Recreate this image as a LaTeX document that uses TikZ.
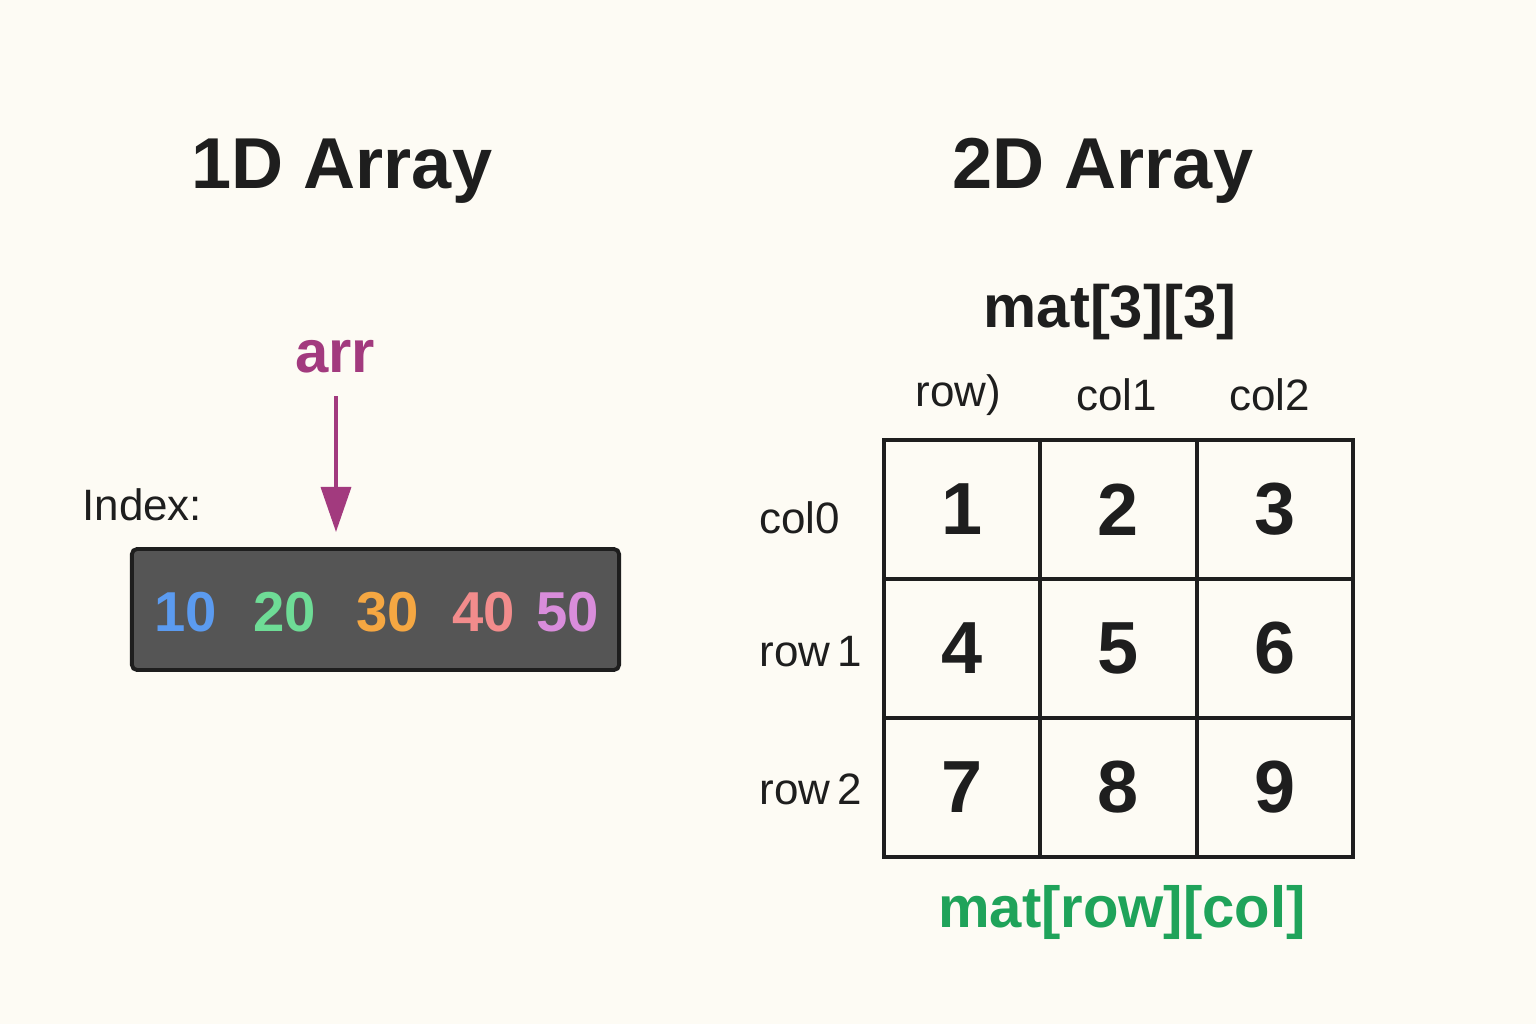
\documentclass[tikz,border=0pt]{standalone}
\usepackage{fontspec}
\setmainfont{Liberation Sans}
\usetikzlibrary{arrows.meta,positioning}
\definecolor{paper}{HTML}{FDFBF4}
\definecolor{ink}{HTML}{1E1E1E}
\definecolor{arrpurple}{HTML}{A23A7E}
\definecolor{boxgray}{HTML}{555555}
\definecolor{matgreen}{HTML}{1FA35A}
\definecolor{vblue}{HTML}{5B9BF0}
\definecolor{vgreen}{HTML}{6EDC96}
\definecolor{vorange}{HTML}{F5A742}
\definecolor{vsalmon}{HTML}{F28C8C}
\definecolor{vorchid}{HTML}{D98DDB}

\begin{document}
\begin{tikzpicture}[x=0.01cm, y=-0.01cm, text=ink,
    title/.style={font=\bfseries\fontsize{20.5}{25}\selectfont},
    lbl/.style={font=\fontsize{12.5}{15}\selectfont},
    val/.style={font=\bfseries\fontsize{16}{19}\selectfont},
    cell/.style={draw=ink, line width=1.1pt, minimum width=1.563cm, minimum height=1.39cm,
                 font=\bfseries\fontsize{21}{25}\selectfont},
    ptr/.style={draw=arrpurple, line width=1.1pt, -{Triangle[length=12.8pt, width=8.5pt]}}]
  \fill[paper] (0,0) rectangle (1536,1024);

  % 1D side
  \node[title] (t1) at (342,171) {1D Array};
  \node[font=\bfseries\fontsize{17}{20}\selectfont, text=arrpurple] (arr) at (335,357) {arr};
  \node[lbl, anchor=west] (idx) at (70,505) {Index:};
  \node[draw=ink, fill=boxgray, line width=1.1pt, rounded corners=1.5pt,
        minimum width=4.87cm, minimum height=1.21cm] (vec) at (375.5,609.5) {};
  \coordinate (tip) at (336,532);
  \draw[ptr] ([yshift=-3pt]arr.south -| tip) -- (tip);
  \node[val, text=vblue]   (v0) at (186,612) {10};
  \node[val, text=vgreen]  (v1) at (285,612) {20};
  \node[val, text=vorange] (v2) at (388,612) {30};
  \node[val, text=vsalmon] (v3) at (484,612) {40};
  \node[val, text=vorchid] (v4) at (568,612) {50};

  % 2D side
  \node[title] (t2) at (1103,171) {2D Array};
  \node[font=\bfseries\fontsize{17}{20}\selectfont] (dims) at (1110,312) {mat[3][3]};
  \foreach \r in {0,1,2}
    \foreach \c in {0,1,2} {
      \pgfmathtruncatemacro\v{3*\r+\c+1}
      \node[cell] (c-\r-\c) at ({884+156.33*(\c+0.5)},{440+139*(\r+0.5)}) {\v};
    }
  \path (c-0-0.north) ++(-4,-43) node[lbl] (h0) {row)};
  \path (c-0-1.north) ++(-2,-43) node[lbl] (h1) {col1};
  \path (c-0-2.north) ++(-5,-43) node[lbl] (h2) {col2};
  \path (c-0-0.west) ++(-135,8) node[lbl, anchor=west] (r0) {col0};
  \path (c-1-0.west) ++(-135,3) node[lbl, anchor=west] (r1) {row\,1};
  \path (c-2-0.west) ++(-135,2) node[lbl, anchor=west] (r2) {row\,2};
  \node[font=\bfseries\fontsize{16.5}{20}\selectfont, text=matgreen] (acc) at (1122,912) {mat[row][col]};
\end{tikzpicture}
\end{document}
